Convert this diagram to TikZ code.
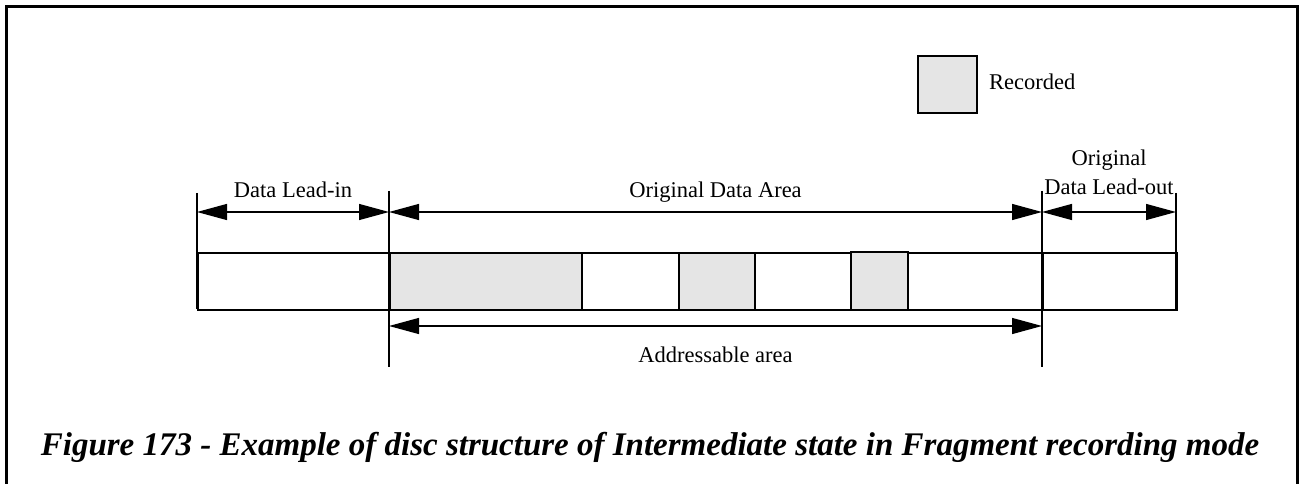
\documentclass[tikz,border=0pt]{standalone}
\usepackage{fontspec}
\setmainfont{Liberation Serif}
\usetikzlibrary{arrows.meta}
\definecolor{recgray}{RGB}{229,229,229}
\begin{document}
\begin{tikzpicture}[x=1pt,y=-1pt,
  strip/.style={draw=black,line width=1.6pt},
  rec/.style={draw=black,line width=1.6pt,fill=recgray},
  tick/.style={draw=black,line width=1.6pt},
  dim/.style={line width=1.3pt,{Triangle[length=30pt,width=16pt]}-{Triangle[length=30pt,width=16pt]}},
  lbl/.style={font=\fontsize{22.5}{27}\selectfont,inner sep=0pt},
  figcaption/.style={font=\fontsize{33}{40}\selectfont\bfseries\itshape,inner sep=0pt}]
\useasboundingbox (0,0) rectangle (1302,484);
% frame (open at bottom)
\draw[line width=3pt] (6.5,484) -- (6.5,6.5) -- (1297.5,6.5) -- (1297.5,484);
% strip
\node[strip,minimum width=845pt,minimum height=57pt,anchor=north west,inner sep=0pt] (strip) at (197,252) {};
\node[rec,minimum width=192pt,minimum height=57pt,anchor=north west,inner sep=0pt] (f1) at (389,252) {};
\node[rec,minimum width=76pt,minimum height=57pt,anchor=north west,inner sep=0pt] (f2) at (678,252) {};
\node[rec,minimum width=57pt,minimum height=58pt,anchor=north west,inner sep=0pt] (f3) at (850,251) {};
\node[strip,minimum width=134pt,minimum height=57pt,anchor=north west,inner sep=0pt] (out) at (1042,252) {};
% tick lines
\coordinate (t0a) at (197,193); \coordinate (t0b) at (197,309);
\coordinate (t1a) at (389,191); \coordinate (t1b) at (389,367);
\coordinate (t2a) at (1042,191); \coordinate (t2b) at (1042,367);
\coordinate (t3a) at (1176,193); \coordinate (t3b) at (1176,309);
\draw[tick] (t0a) -- (t0b);
\draw[tick] (t1a) -- (t1b);
\draw[tick] (t2a) -- (t2b);
\draw[tick] (t3a) -- (t3b);
% dimension arrows
\coordinate (a0) at (197,212); \coordinate (a1) at (389,212);
\coordinate (a2) at (1042,212); \coordinate (a3) at (1176,212);
\coordinate (b1) at (389,326); \coordinate (b2) at (1042,326);
\draw[dim] (a0) -- (a1);
\draw[dim] (a1) -- (a2);
\draw[dim] (a2) -- (a3);
\draw[dim] (b1) -- (b2);
% labels
\node[lbl,anchor=base] (lin) at (293,197) {Data Lead-in};
\node[lbl,anchor=base] (oda) at (715.5,197) {Original Data Area};
\node[lbl,anchor=base] (orig) at (1109,166) {Original};
\node[lbl,anchor=base] (lout) at (1109,194) {Data Lead-out};
\node[lbl,anchor=base] (addr) at (715.5,362) {Addressable area};
% legend
\node[rec,minimum width=59pt,minimum height=57pt,anchor=north west,inner sep=0pt] (leg) at (917,55) {};
\node[lbl,anchor=base west] (legt) at (989,90) {Recorded};
% caption
\node[figcaption,anchor=base] (caption) at (650,455) {Figure 173 - Example of disc structure of Intermediate state in Fragment recording mode};
\end{tikzpicture}
\end{document}
